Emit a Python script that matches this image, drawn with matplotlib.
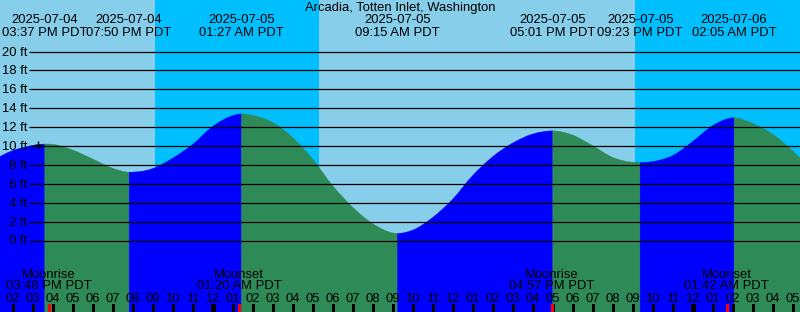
import matplotlib
matplotlib.use('Agg')
import matplotlib.pyplot as plt
import matplotlib.transforms as mtransforms
from matplotlib.path import Path
from matplotlib.patches import PathPatch
import numpy as np
import pandas as pd

plt.rcParams['font.family'] = ['Liberation Sans', 'DejaVu Sans']

station = "Arcadia, Totten Inlet, Washington"
origin = pd.Timestamp("2025-07-04 00:00")

# high / low tide events (header)
event_times = ["2025-07-04 15:37", "2025-07-04 19:50", "2025-07-05 01:27",
               "2025-07-05 09:15", "2025-07-05 17:01", "2025-07-05 21:23",
               "2025-07-06 02:05"]
event_levels = [10.2, 7.23, 13.4, 0.75, 11.6, 8.25, 12.98]

# hourly water level (ft), starting 2025-07-04 13:00
hourly_start = "2025-07-04 13:00"
hourly_levels = [8.5, 9.5, 10.05, 10.18, 9.58, 8.63, 7.65, 7.25, 7.6, 8.7,
                 10.15, 12.05, 13.2, 13.25, 12.5, 10.9, 8.63, 5.82, 3.54, 1.79,
                 0.9, 1.09, 2.42, 4.35, 6.85, 8.85, 10.3, 11.26, 11.58, 11.16,
                 10.04, 8.8, 8.28, 8.35, 8.98, 10.46, 12.14, 12.9, 12.4, 11.26,
                 9.5, 7.4]

# night (sunset -> sunrise)
night_start = ["2025-07-04 21:08", "2025-07-05 21:08"]
night_end = ["2025-07-05 05:20", "2025-07-06 05:21"]

# moon events
moon_names = ["Moonrise", "Moonset", "Moonrise", "Moonset"]
moon_times = ["2025-07-04 15:48", "2025-07-05 01:20", "2025-07-05 16:57",
              "2025-07-06 01:42"]

# small "+" mark
mark_time = "2025-07-04 15:15"
mark_level = 10.15

levels = list(range(0, 21, 2))
hour_first, hour_last = 14, 53
fs = 9.4


def hrs(s):
    return (pd.Timestamp(s) - origin) / pd.Timedelta(hours=1)


W, H = 800, 312
ppx_hour, ppx_ft = 20.0, 9.45
x0 = hour_first - 12.5 / ppx_hour
y0 = -(H - 240.5) / ppx_ft

fig = plt.figure(figsize=(W / 100, H / 100), dpi=100)
ax = fig.add_axes([0, 0, 1, 1])
ax.set_xlim(x0, x0 + W / ppx_hour)
ax.set_ylim(y0, y0 + H / ppx_ft)
ax.axis('off')
ax.add_patch(plt.Rectangle((0, 0), 1, 1, transform=ax.transAxes,
                           color='#87CEEB', zorder=0))
for a, b in zip(night_start, night_end):
    ax.axvspan(hrs(a), hrs(b), color='#00BFFF', lw=0, zorder=0.5)

# tide curve: merge hourly readings with the extremes
ev_t = np.array([hrs(s) for s in event_times])
hr_t = hrs(hourly_start) + np.arange(len(hourly_levels))
hr_h = np.array(hourly_levels)
keep = np.min(np.abs(hr_t[:, None] - ev_t[None, :]), axis=1) > 0.3
t_all = np.concatenate([hr_t[keep], ev_t])
h_all = np.concatenate([hr_h[keep], event_levels])
is_ev = np.concatenate([np.zeros(keep.sum(), bool), np.ones(len(ev_t), bool)])
order = np.argsort(t_all)
t_all, h_all, is_ev = t_all[order], h_all[order], is_ev[order]

# slopes for a smooth bezier path (flat at high/low water)
slope = np.gradient(h_all, t_all)
slope[is_ev] = 0.0

ev_idx = list(np.where(is_ev)[0])
bounds = [0] + ev_idx + [len(t_all) - 1]
for i0, i1 in zip(bounds[:-1], bounds[1:]):
    verts = [(t_all[i0], y0), (t_all[i0], h_all[i0])]
    codes = [Path.MOVETO, Path.LINETO]
    for i in range(i0, i1):
        dt = (t_all[i + 1] - t_all[i]) / 3
        verts += [(t_all[i] + dt, h_all[i] + slope[i] * dt),
                  (t_all[i + 1] - dt, h_all[i + 1] - slope[i + 1] * dt),
                  (t_all[i + 1], h_all[i + 1])]
        codes += [Path.CURVE4] * 3
    verts += [(t_all[i1], y0), (t_all[i0], y0)]
    codes += [Path.LINETO, Path.CLOSEPOLY]
    col = '#0000FF' if h_all[i1] > h_all[i0] else '#2E8B57'
    ax.add_patch(PathPatch(Path(verts, codes), facecolor=col, edgecolor=col,
                           lw=0.3, zorder=1))

# level lines and labels
ax.hlines(levels, 29 / W, 1, colors='black', lw=0.9, zorder=2,
          transform=mtransforms.blended_transform_factory(ax.transAxes, ax.transData))
for lv in levels:
    ax.annotate(f"{lv} ft", (0, lv), xycoords=('axes fraction', 'data'),
                xytext=(27.5, -4), textcoords='offset pixels',
                ha='right', va='baseline', fontsize=fs, zorder=3)

ax.plot(hrs(mark_time), mark_level, marker='+', color='black', ms=6, mew=1, zorder=3)

# header
bt = mtransforms.blended_transform_factory(ax.transData, ax.transAxes)
fig.text(0.5, 1 - 11 / H, station, ha='center', va='baseline', fontsize=fs)
for s in event_times:
    ts = pd.Timestamp(s)
    ax.text(hrs(s), 1 - 23.3 / H, ts.strftime("%Y-%m-%d"), transform=bt,
            ha='center', va='baseline', fontsize=fs, zorder=3)
    ax.text(hrs(s), 1 - 35.7 / H, ts.strftime("%I:%M %p PDT"), transform=bt,
            ha='center', va='baseline', fontsize=fs, zorder=3)

# moon events
for name, s in zip(moon_names, moon_times):
    ts = pd.Timestamp(s)
    ax.text(hrs(s), 1 - 278.3 / H, name, transform=bt,
            ha='center', va='baseline', fontsize=fs, zorder=3)
    ax.text(hrs(s), 1 - 289.3 / H, ts.strftime("%I:%M %p PDT"), transform=bt,
            ha='center', va='baseline', fontsize=fs, zorder=3)

# hour ticks
hours = np.arange(hour_first, hour_last + 1)
tick_top = 8 / H
for hr in hours:
    lw = 2.2 if hr % 24 == 0 else 0.8
    ax.vlines(hr, 0, tick_top, colors='black', lw=lw, transform=bt, zorder=3,
              antialiased=False)
    ax.text(hr, 1 - 301.7 / H, f"{(hr % 12) or 12:02d}", transform=bt,
            ha='center', va='baseline', fontsize=fs, zorder=3)
ax.vlines([hrs(s) for s in moon_times], 0, tick_top, colors='red', lw=0.8,
          transform=bt, zorder=3, antialiased=False)

fig.savefig('out.png', dpi=100)
